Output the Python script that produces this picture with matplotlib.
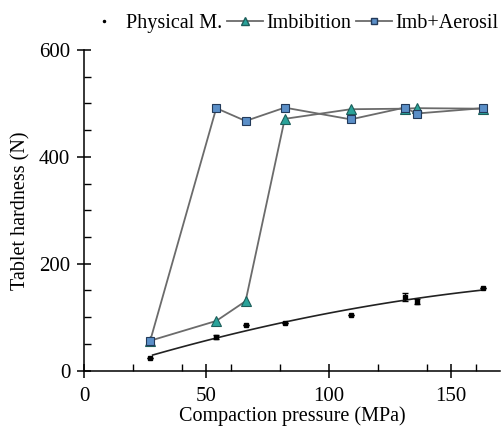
import numpy as np
import matplotlib
matplotlib.use("Agg")
import matplotlib.pyplot as plt
from matplotlib.ticker import MultipleLocator
from matplotlib.lines import Line2D

plt.rcParams['font.family'] = ['Liberation Serif', 'DejaVu Serif']

# compaction pressure (MPa)
pressure = [27, 54, 66, 82, 109, 131, 136, 163]

# tablet hardness (N)
physical = [23, 63, 85, 90, 105, 138, 129, 154]
physical_err = [0, 4, 0, 0, 0, 8, 5, 0]
imbibition = [56, 93, 130, 471, 489, 490, 491, 490]
imb_aerosil = [56, 491, 467, 492, 470, 492, 481, 491]

fig = plt.figure(figsize=(5.04, 4.30), dpi=100)
ax = fig.add_axes([0.167, 0.138, 0.825, 0.746])

line_col = '#6b6b6b'
tri_fc, tri_ec = '#2aa39a', '#1d5e5a'
sq_fc, sq_ec = '#5b8fc8', '#233a5a'

# trend line (2nd order polynomial) through the physical mixture points
coef = np.polyfit(pressure, physical, 2)
xs = np.linspace(min(pressure) + 1, max(pressure), 100)
ax.plot(xs, np.polyval(coef, xs), color='#222222', lw=1.2, zorder=2)

ax.errorbar(pressure, physical, yerr=physical_err, fmt='s', ms=3,
            color='black', ecolor='black', elinewidth=1, capsize=2.5, zorder=3)

ax.plot(pressure, imbibition, color=line_col, lw=1.3, marker='^', ms=7,
        mfc=tri_fc, mec=tri_ec, mew=0.8, zorder=4)
ax.plot(pressure, imb_aerosil, color=line_col, lw=1.3, marker='s', ms=6,
        mfc=sq_fc, mec=sq_ec, mew=0.8, zorder=5)

ax.set_xlim(0, 170)
ax.set_ylim(0, 600)
ax.xaxis.set_major_locator(MultipleLocator(50))
ax.xaxis.set_minor_locator(MultipleLocator(20))
ax.yaxis.set_major_locator(MultipleLocator(200))
ax.yaxis.set_minor_locator(MultipleLocator(50))

for s in ['top', 'right']:
    ax.spines[s].set_visible(False)
ax.spines['left'].set_linewidth(1.1)
ax.spines['bottom'].set_linewidth(1.1)

ax.tick_params(axis='y', which='major', direction='inout', length=10, width=1.1, labelsize=15, pad=5)
ax.tick_params(axis='y', which='minor', direction='in', length=5, width=1.0)
ax.tick_params(axis='x', which='major', direction='inout', length=10, width=1.1, labelsize=15, pad=7)
ax.tick_params(axis='x', which='minor', direction='in', length=5, width=1.0)

ax.set_xlabel('Compaction pressure (MPa)', fontsize=14.5, labelpad=0)
ax.set_ylabel('Tablet hardness (N)', fontsize=14.5, labelpad=6)

handles = [
    Line2D([], [], ls='none', marker='.', ms=3, color='black'),
    Line2D([], [], color=line_col, lw=1.3, marker='^', ms=5.5, mfc=tri_fc, mec=tri_ec),
    Line2D([], [], color=line_col, lw=1.3, marker='s', ms=5, mfc=sq_fc, mec=sq_ec),
]
fig.legend(handles, ['Physical M.', 'Imbibition', 'Imb+Aerosil'],
           loc='upper right', bbox_to_anchor=(1.025, 1.01), ncol=3, frameon=False,
           fontsize=14.5, handlelength=1.8, handletextpad=0.15, columnspacing=0.25)

fig.savefig('out.png', dpi=100)
